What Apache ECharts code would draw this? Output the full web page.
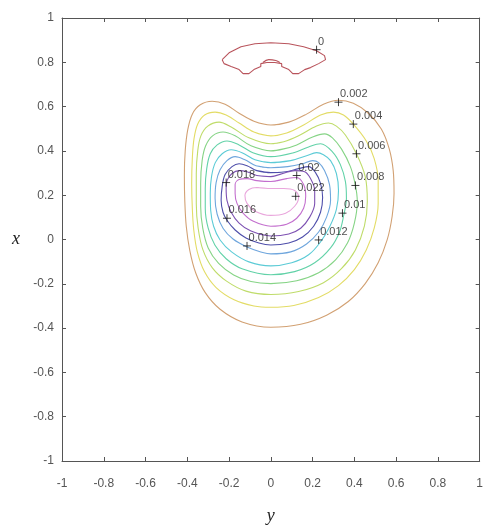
<!DOCTYPE html>
<html>
<head>
<meta charset="utf-8">
<script src="https://cdn.jsdelivr.net/npm/echarts@6/dist/echarts.min.js"></script>
<style>
  html, body { margin: 0; padding: 0; background: #fff; }
  #chart { width: 486px; height: 530px; }
</style>
</head>
<body>
<div id="chart"></div>
<script>
// contour levels, outermost (0) to innermost (0.022)
var levels = ['0', '0.002', '0.004', '0.006', '0.008', '0.01', '0.012', '0.014', '0.016', '0.018', '0.02', '0.022'];

// each point is [y, x]
var contour0 = [[-0.233,0.812],[-0.200,0.843],[-0.143,0.870],[-0.076,0.884],[0,0.888],[0.086,0.884],[0.157,0.870],[0.219,0.852],[0.257,0.830],[0.262,0.812],[0.229,0.794],[0.190,0.776],[0.162,0.767],[0.133,0.749],[0.105,0.749],[0.086,0.767],[0.052,0.781],[0.052,0.794],[0.019,0.799],[-0.019,0.799],[-0.048,0.794],[-0.048,0.781],[-0.081,0.767],[-0.105,0.749],[-0.133,0.749],[-0.152,0.767],[-0.190,0.781],[-0.224,0.794],[-0.233,0.812]];
var contour0b = [[-0.038,0.799],[-0.010,0.812],[0.024,0.808],[0.043,0.799]];
var contour002 = [[0,0.517],[-0.081,0.534],[-0.152,0.570],[-0.219,0.611],[-0.281,0.624],[-0.338,0.608],[-0.376,0.566],[-0.398,0.495],[-0.410,0.400],[-0.414,0.290],[-0.412,0.175],[-0.405,0.060],[-0.388,-0.050],[-0.360,-0.150],[-0.314,-0.240],[-0.243,-0.315],[-0.138,-0.372],[0,-0.396],[0.143,-0.383],[0.267,-0.342],[0.371,-0.280],[0.452,-0.199],[0.514,-0.105],[0.557,-0.002],[0.581,0.105],[0.590,0.208],[0.586,0.311],[0.567,0.409],[0.529,0.499],[0.467,0.570],[0.395,0.615],[0.324,0.629],[0.252,0.611],[0.171,0.566],[0.086,0.530],[0,0.517]];
var contour004 = [[0,0.468],[-0.081,0.485],[-0.152,0.526],[-0.214,0.562],[-0.267,0.575],[-0.317,0.562],[-0.350,0.521],[-0.368,0.454],[-0.376,0.365],[-0.379,0.253],[-0.376,0.141],[-0.369,0.043],[-0.352,-0.056],[-0.318,-0.145],[-0.262,-0.217],[-0.176,-0.272],[-0.081,-0.300],[0,-0.306],[0.110,-0.298],[0.229,-0.262],[0.324,-0.208],[0.400,-0.136],[0.457,-0.047],[0.495,0.051],[0.514,0.163],[0.514,0.266],[0.495,0.365],[0.457,0.445],[0.395,0.521],[0.348,0.562],[0.300,0.575],[0.238,0.562],[0.157,0.517],[0.076,0.481],[0,0.468]];
var contour006 = [[0,0.432],[-0.105,0.459],[-0.190,0.508],[-0.248,0.530],[-0.302,0.512],[-0.335,0.468],[-0.350,0.400],[-0.357,0.298],[-0.357,0.163],[-0.348,0.051],[-0.325,-0.047],[-0.280,-0.128],[-0.212,-0.188],[-0.119,-0.233],[0,-0.248],[0.133,-0.235],[0.252,-0.195],[0.338,-0.132],[0.405,-0.047],[0.448,0.060],[0.462,0.172],[0.452,0.284],[0.410,0.387],[0.357,0.472],[0.314,0.512],[0.276,0.526],[0.219,0.512],[0.133,0.468],[0.062,0.441],[0,0.432]];
var contour008 = [[0,0.400],[-0.095,0.423],[-0.171,0.468],[-0.229,0.485],[-0.279,0.468],[-0.312,0.423],[-0.329,0.356],[-0.336,0.253],[-0.336,0.150],[-0.326,0.051],[-0.300,-0.038],[-0.250,-0.108],[-0.178,-0.160],[-0.095,-0.190],[0,-0.199],[0.124,-0.186],[0.229,-0.150],[0.310,-0.092],[0.367,-0.016],[0.400,0.074],[0.414,0.172],[0.405,0.244],[0.381,0.329],[0.338,0.409],[0.295,0.459],[0.257,0.477],[0.200,0.463],[0.124,0.427],[0.062,0.409],[0,0.400]];
var contour010 = [[0,0.374],[-0.086,0.392],[-0.152,0.427],[-0.210,0.445],[-0.257,0.427],[-0.290,0.387],[-0.307,0.320],[-0.314,0.230],[-0.314,0.141],[-0.300,0.051],[-0.268,-0.025],[-0.214,-0.087],[-0.138,-0.132],[0,-0.159],[0.114,-0.145],[0.210,-0.105],[0.286,-0.038],[0.329,0.034],[0.348,0.105],[0.362,0.186],[0.357,0.262],[0.333,0.338],[0.295,0.396],[0.238,0.432],[0.181,0.418],[0.110,0.392],[0,0.374]];
var contour012 = [[0,0.347],[-0.076,0.360],[-0.138,0.392],[-0.190,0.405],[-0.233,0.387],[-0.266,0.347],[-0.284,0.284],[-0.290,0.208],[-0.288,0.132],[-0.274,0.060],[-0.243,-0.002],[-0.188,-0.056],[-0.105,-0.101],[0,-0.119],[0.100,-0.105],[0.181,-0.069],[0.238,-0.011],[0.281,0.056],[0.314,0.136],[0.324,0.221],[0.314,0.298],[0.286,0.356],[0.252,0.383],[0.219,0.392],[0.171,0.378],[0.095,0.356],[0,0.347]];
var contour014 = [[0,0.324],[-0.071,0.333],[-0.124,0.360],[-0.171,0.374],[-0.210,0.356],[-0.243,0.315],[-0.262,0.257],[-0.267,0.186],[-0.257,0.114],[-0.229,0.051],[-0.181,0.002],[-0.114,-0.034],[-0.048,-0.056],[0,-0.065],[0.095,-0.056],[0.171,-0.020],[0.229,0.034],[0.267,0.101],[0.286,0.177],[0.281,0.248],[0.257,0.311],[0.229,0.347],[0.200,0.356],[0.152,0.342],[0.081,0.329],[0,0.324]];
var contour016 = [[0,0.302],[-0.067,0.311],[-0.114,0.333],[-0.152,0.342],[-0.186,0.329],[-0.219,0.293],[-0.233,0.239],[-0.238,0.177],[-0.229,0.123],[-0.210,0.087],[-0.171,0.043],[-0.119,0.007],[-0.057,-0.016],[0,-0.025],[0.086,-0.016],[0.152,0.011],[0.205,0.060],[0.238,0.123],[0.248,0.190],[0.238,0.253],[0.214,0.302],[0.181,0.329],[0.133,0.320],[0.071,0.306],[0,0.302]];
var contour018 = [[0,0.284],[-0.067,0.289],[-0.114,0.306],[-0.152,0.311],[-0.186,0.298],[-0.210,0.266],[-0.214,0.230],[-0.210,0.177],[-0.190,0.123],[-0.152,0.074],[-0.095,0.038],[0,0.016],[0.086,0.025],[0.143,0.051],[0.186,0.101],[0.210,0.163],[0.210,0.221],[0.190,0.275],[0.162,0.306],[0.114,0.311],[0.057,0.298],[0,0.284]];
var contour020 = [[0,0.262],[-0.067,0.266],[-0.114,0.275],[-0.152,0.271],[-0.171,0.248],[-0.171,0.208],[-0.162,0.163],[-0.133,0.119],[-0.086,0.083],[0,0.060],[0.076,0.069],[0.124,0.096],[0.157,0.141],[0.167,0.195],[0.157,0.248],[0.124,0.280],[0.076,0.275],[0,0.262]];
var contour022 = [[0,0.230],[-0.067,0.235],[-0.105,0.226],[-0.124,0.199],[-0.114,0.163],[-0.076,0.128],[0,0.109],[0.071,0.119],[0.114,0.150],[0.133,0.190],[0.114,0.221],[0.062,0.230],[0,0.230]];

// where clabel put its "+" marks, one per level
var labelPoints = [[0.219,0.857],[0.324,0.620],[0.395,0.521],[0.410,0.387],[0.405,0.244],[0.343,0.119],[0.229,-0.002],[-0.114,-0.029],[-0.210,0.096],[-0.214,0.257],[0.124,0.289],[0.119,0.195]];

var contours = [contour0, contour002, contour004, contour006, contour008, contour010, contour012, contour014, contour016, contour018, contour020, contour022];
var colors = ['#b9545c', '#d2a173', '#e3dc66', '#bfdc6a', '#86d486', '#62d2a8', '#5ccbd6', '#6fa6dd', '#4e4eaa', '#7e52b2', '#c36fce', '#e9a6dc'];

var dom = document.getElementById('chart');
var myChart = echarts.init(dom);

// wrap a closed loop one point past its ends so the smoothing has no kink at the seam
function wrapLoop(pts) {
    return [pts[pts.length - 2]].concat(pts, [pts[1]]);
}

var series = [];
for (var i = 0; i < contours.length; i++) {
    series.push({
        name: levels[i],
        type: 'line',
        data: i === 0 ? contours[i] : wrapLoop(contours[i]),
        smooth: i === 0 ? false : 0.35,
        showSymbol: false,
        lineStyle: { color: colors[i], width: 1.1 },
        z: 2
    });
}
series.push({
    name: '0b',
    type: 'line',
    data: contour0b,
    smooth: 0.4,
    showSymbol: false,
    lineStyle: { color: colors[0], width: 1.1 },
    z: 2
});

var markData = [];
for (var j = 0; j < labelPoints.length; j++) {
    markData.push({ value: labelPoints[j], label: { formatter: levels[j] } });
}
series.push({
    type: 'scatter',
    data: markData,
    symbol: 'path://M0,5L10,5M5,0L5,10',
    symbolSize: 8,
    itemStyle: { color: 'rgba(0,0,0,0)', borderColor: '#111', borderWidth: 1 },
    label: {
        show: true,
        position: 'right',
        distance: 0,
        offset: [-3, -8],
        fontFamily: 'Liberation Sans',
        fontSize: 11,
        color: '#222'
    },
    z: 5
});

var axisLineStyle = { color: '#555', width: 1 };

var option = {
    animation: false,
    backgroundColor: '#fff',
    grid: { left: 62, right: 3, top: 18, bottom: 61 },
    xAxis: [{
        type: 'value', min: -1, max: 1, interval: 0.2,
        name: 'y', nameLocation: 'middle', nameGap: 46,
        nameTextStyle: { fontFamily: 'Liberation Serif', fontStyle: 'italic', fontSize: 18, color: '#222' },
        axisLine: { show: true, onZero: false, lineStyle: axisLineStyle },
        axisTick: { show: true, inside: true, length: 4, lineStyle: axisLineStyle },
        axisLabel: { fontFamily: 'Liberation Sans', fontSize: 12, color: '#555', margin: 17 },
        splitLine: { show: false }
    }, {
        type: 'value', min: -1, max: 1, interval: 0.2, position: 'top',
        axisLine: { show: true, onZero: false, lineStyle: axisLineStyle },
        axisTick: { show: true, inside: true, length: 4, lineStyle: axisLineStyle },
        axisLabel: { show: false },
        splitLine: { show: false }
    }],
    yAxis: [{
        type: 'value', min: -1, max: 1, interval: 0.2,
        name: 'x', nameLocation: 'middle', nameGap: 42, nameRotate: 0,
        nameTextStyle: { fontFamily: 'Liberation Serif', fontStyle: 'italic', fontSize: 18, color: '#222' },
        axisLine: { show: true, onZero: false, lineStyle: axisLineStyle },
        axisTick: { show: true, inside: true, length: 4, lineStyle: axisLineStyle },
        axisLabel: { fontFamily: 'Liberation Sans', fontSize: 12, color: '#555', margin: 8 },
        splitLine: { show: false }
    }, {
        type: 'value', min: -1, max: 1, interval: 0.2, position: 'right',
        axisLine: { show: true, onZero: false, lineStyle: axisLineStyle },
        axisTick: { show: true, inside: true, length: 4, lineStyle: axisLineStyle },
        axisLabel: { show: false },
        splitLine: { show: false }
    }],
    series: series
};

myChart.setOption(option);
</script>
</body>
</html>
